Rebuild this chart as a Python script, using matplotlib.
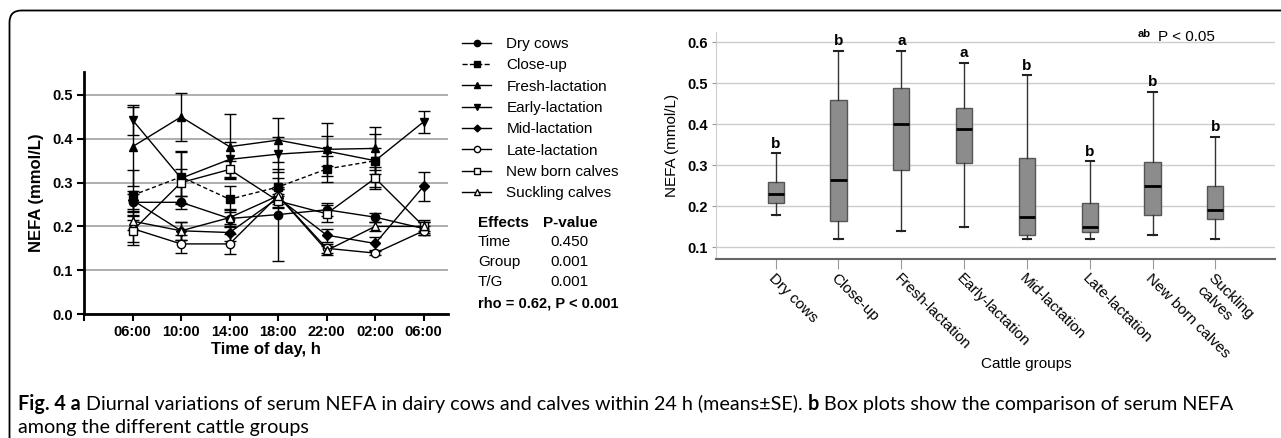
"""
Fig. 4: diurnal NEFA variations (a) and box plots by cattle group (b).
"""

import matplotlib
matplotlib.use("Agg")
import matplotlib.pyplot as plt
import numpy as np
from matplotlib.patches import FancyBboxPatch
from matplotlib.transforms import IdentityTransform

plt.rcParams["font.family"] = ["Liberation Sans", "DejaVu Sans"]

W, H = 1281, 438

# ---------------- data: panel a (means and SE) ----------------
times = ["06:00", "10:00", "14:00", "18:00", "22:00", "02:00", "06:00"]
nan = np.nan

dry_cows = [0.255, 0.255, 0.218, 0.227, 0.238, 0.221, 0.195]
close_up = [0.271, 0.313, 0.262, 0.290, 0.331, 0.350, nan]
fresh_lact = [0.382, 0.450, 0.382, 0.397, 0.376, 0.378, nan]
early_lact = [0.443, 0.310, 0.353, 0.365, 0.372, 0.350, 0.439]
mid_lact = [0.260, 0.190, 0.186, 0.265, 0.180, 0.161, 0.292]
late_lact = [0.195, 0.160, 0.160, 0.270, 0.150, 0.139, 0.190]
new_born = [0.190, 0.300, 0.330, 0.258, 0.229, 0.310, 0.200]
suckling = [0.212, 0.190, 0.220, 0.270, 0.145, 0.200, 0.200]

dry_cows_se = [0.020, 0.015, 0.020, 0.105, 0.015, 0.010, 0.015]
close_up_se = [0.057, 0.060, 0.030, 0.020, 0.030, 0.060, nan]
fresh_lact_se = [0.090, 0.055, 0.074, 0.050, 0.060, 0.050, nan]
early_lact_se = [0.035, 0.060, 0.040, 0.040, 0.035, 0.030, 0.025]
mid_lact_se = [0.020, 0.020, 0.020, 0.020, 0.015, 0.015, 0.033]
late_lact_se = [0.030, 0.020, 0.023, 0.020, 0.010, 0.005, 0.010]
new_born_se = [0.033, 0.030, 0.020, 0.015, 0.020, 0.025, 0.015]
suckling_se = [0.020, 0.020, 0.020, 0.015, 0.010, 0.010, 0.010]

series_labels = ["Dry cows", "Close-up", "Fresh-lactation", "Early-lactation",
                 "Mid-lactation", "Late-lactation", "New born calves", "Suckling calves"]

effects = ["Time", "Group", "T/G"]
p_values = ["0.450", "0.001", "0.001"]

# ---------------- data: panel b (box plot stats) ----------------
groups = ["Dry cows", "Close-up", "Fresh-lactation", "Early-lactation",
          "Mid-lactation", "Late-lactation", "New born calves", "Suckling\ncalves"]
whisker_low = [0.18, 0.12, 0.14, 0.15, 0.12, 0.12, 0.13, 0.12]
q1 = [0.208, 0.164, 0.289, 0.305, 0.130, 0.138, 0.180, 0.168]
median = [0.231, 0.265, 0.400, 0.389, 0.175, 0.150, 0.249, 0.190]
q3 = [0.259, 0.459, 0.488, 0.439, 0.319, 0.209, 0.309, 0.249]
whisker_high = [0.33, 0.58, 0.58, 0.55, 0.52, 0.31, 0.48, 0.37]
letters = ["b", "b", "a", "a", "b", "b", "b", "b"]


def px_axes(left, top, right, bottom):
    """Axes rect from pixel edges (origin at top-left)."""
    return [left / W, (H - bottom) / H, (right - left) / W, (bottom - top) / H]


fig = plt.figure(figsize=(W / 100, H / 100), dpi=100)

# rounded frame around the whole figure
frame = FancyBboxPatch((9.5, -40), 1330, H - 10.5 + 40,
                       boxstyle="round,pad=0,rounding_size=12",
                       transform=IdentityTransform(), fill=False,
                       edgecolor="black", linewidth=1.3)
fig.patches.append(frame)

# ================= panel a =================
ax1 = fig.add_axes(px_axes(84, 72, 448, 314))
x = np.arange(1, len(times) + 1)

styles = [
    dict(marker="o", mfc="black", ls="-"),
    dict(marker="s", mfc="black", ls="--"),
    dict(marker="^", mfc="black", ls="-"),
    dict(marker="v", mfc="black", ls="-"),
    dict(marker="D", mfc="black", ls="-", ms=5),
    dict(marker="o", mfc="white", ls="-"),
    dict(marker="s", mfc="white", ls="-"),
    dict(marker="^", mfc="white", ls="-"),
]
means = [dry_cows, close_up, fresh_lact, early_lact, mid_lact, late_lact, new_born, suckling]
errors = [dry_cows_se, close_up_se, fresh_lact_se, early_lact_se,
          mid_lact_se, late_lact_se, new_born_se, suckling_se]

handles = []
for m, se, st, lab in zip(means, errors, styles, series_labels):
    ms = st.get("ms", 6)
    ax1.errorbar(x, m, yerr=se, color="black", lw=1, elinewidth=1,
                 capsize=4.3, capthick=1, marker=st["marker"],
                 mfc=st["mfc"], mec="black", ms=ms, ls=st["ls"],
                 dashes=(3, 2) if st["ls"] == "--" else (None, None),
                 zorder=3)
    h, = ax1.plot([], [], color="black", lw=1, marker=st["marker"],
                  mfc=st["mfc"], mec="black", ms=ms - 1.5, ls=st["ls"], label=lab)
    handles.append(h)

ax1.set_xlim(0, 7.5)
ax1.set_ylim(0, 0.5525)
ax1.set_xticks(np.arange(0, 8))
ax1.set_xticklabels([""] + times, fontsize=10.5, fontweight="bold")
ax1.set_yticks(np.arange(0, 0.51, 0.1))
ax1.set_yticklabels([f"{v:.1f}" for v in np.arange(0, 0.51, 0.1)],
                    fontsize=10.5, fontweight="bold")
ax1.tick_params(axis="both", direction="out", length=5, width=1.5, color="black", pad=3)
for s in ["top", "right"]:
    ax1.spines[s].set_visible(False)
for s in ["left", "bottom"]:
    ax1.spines[s].set_linewidth(2)
ax1.set_axisbelow(True)
ax1.yaxis.grid(True, color="#a8a8a8", lw=1.3)
ax1.set_xlabel("Time of day, h", fontsize=12, fontweight="bold", labelpad=2)
ax1.set_ylabel("NEFA (mmol/L)", fontsize=12, fontweight="bold", labelpad=6)

fig.legend(handles=handles, loc="upper left", bbox_to_anchor=(462 / W, 1 - 37 / H),
           frameon=False, fontsize=11, handlelength=1.9, handletextpad=1.0,
           labelspacing=0.48, borderpad=0, borderaxespad=0)

# effects table
fig.text(478 / W, 1 - 223 / H, "Effects", fontsize=11, fontweight="bold", va="center")
fig.text(543 / W, 1 - 223 / H, "P-value", fontsize=11, fontweight="bold", va="center")
for i, (e, p) in enumerate(zip(effects, p_values)):
    yy = 1 - (242 + i * 19.8) / H
    fig.text(478 / W, yy, e, fontsize=11, va="center")
    fig.text(550 / W, yy, p, fontsize=11, va="center")
fig.text(478 / W, 1 - 304 / H, "rho = 0.62, P < 0.001", fontsize=10.5,
         fontweight="bold", va="center")

# ================= panel b =================
ax2 = fig.add_axes(px_axes(716, 31.7, 1275, 259))
stats = []
for lo, a, md, b, hi in zip(whisker_low, q1, median, q3, whisker_high):
    stats.append(dict(whislo=lo, q1=a, med=md, q3=b, whishi=hi, fliers=[]))
pos = np.arange(1, len(groups) + 1)
ax2.bxp(stats, positions=pos, widths=0.26, patch_artist=True, showfliers=False,
        boxprops=dict(facecolor="#8c8c8c", edgecolor="#555555", lw=1),
        medianprops=dict(color="black", lw=2),
        whiskerprops=dict(color="#333333", lw=1),
        capprops=dict(color="#222222", lw=1.5))

for p, hi, let in zip(pos, whisker_high, letters):
    ax2.text(p, hi + 0.006, let, ha="center", va="bottom", fontsize=11, fontweight="bold")

ax2.set_xlim(0.05, 8.95)
ax2.set_ylim(0.0715, 0.626)
ax2.set_yticks(np.arange(0.1, 0.61, 0.1))
ax2.set_yticklabels([f"{v:.1f}" for v in np.arange(0.1, 0.61, 0.1)],
                    fontsize=10.5, fontweight="bold")
ax2.set_xticks(pos)
ax2.set_xticklabels(groups, rotation=-45, ha="left", va="top",
                    rotation_mode="anchor", fontsize=11)
ax2.tick_params(axis="y", length=3, color="#999999", pad=3)
ax2.tick_params(axis="x", length=7, color="#999999", pad=2)
ax2.set_axisbelow(True)
ax2.yaxis.grid(True, color="#cccccc", lw=1)
for s in ["top", "right"]:
    ax2.spines[s].set_visible(False)
ax2.spines["left"].set_color("#cccccc")
ax2.spines["bottom"].set_color("#666666")
ax2.spines["bottom"].set_linewidth(1.5)
ax2.set_ylabel("NEFA (mmol/L)", fontsize=11, labelpad=6)
ax2.set_xlabel("Cattle groups", fontsize=11)
ax2.xaxis.set_label_coords(0.555, -0.43)

ax2.text(6.77, 0.614, "ab", fontsize=8, fontweight="bold", ha="left", va="baseline")
ax2.text(7.09, 0.603, "P < 0.05", fontsize=11, ha="left", va="baseline")

# ================= caption =================
renderer = fig.canvas.get_renderer()
cap_font = ["Lato", "DejaVu Sans"]
line1 = [("Fig. 4 a", "bold"),
         (" Diurnal variations of serum NEFA in dairy cows and calves within 24 h (means\u00b1SE). ", "normal"),
         ("b", "bold"),
         (" Box plots show the comparison of serum NEFA", "normal")]
xpos = 18
for txt, wt in line1:
    t = fig.text(xpos / W, 1 - 410 / H, txt, family=cap_font, fontsize=14.2,
                 fontweight=wt, va="baseline")
    xpos += t.get_window_extent(renderer).width
fig.text(18 / W, 1 - 433 / H, "among the different cattle groups", family=cap_font,
         fontsize=14.2, va="baseline")

fig.savefig("out.png", dpi=100)
